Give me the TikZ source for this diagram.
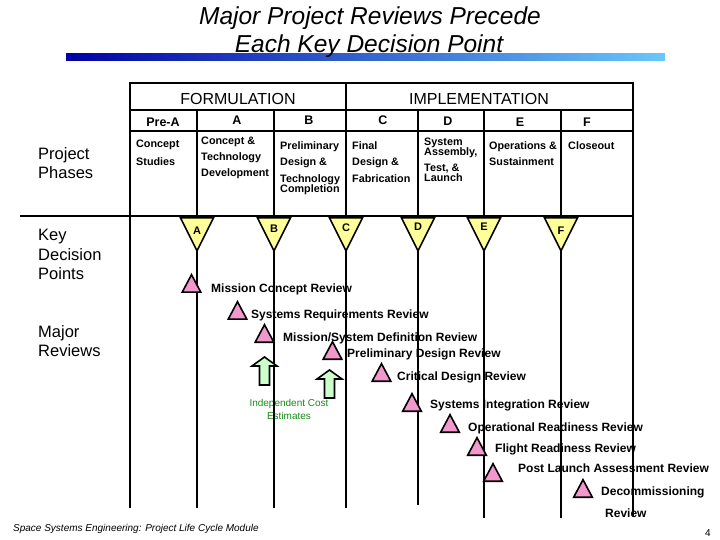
\documentclass[tikz,border=0pt]{standalone}
\usepackage{fontspec}
\setmainfont{Liberation Sans}
\usetikzlibrary{shapes.geometric}
\definecolor{kdpyellow}{RGB}{255,255,153}
\definecolor{revpink}{RGB}{242,152,204}
\definecolor{icegreen}{RGB}{204,255,204}
\definecolor{icetext}{RGB}{20,140,20}
\definecolor{bardark}{RGB}{0,0,165}
\definecolor{barmid}{RGB}{50,115,215}
\definecolor{barlight}{RGB}{105,200,250}
\tikzset{
    rule/.style={line width=2pt, line cap=rect},
    title/.style={anchor=base, inner sep=0pt, font=\fontsize{24.5}{28}\selectfont\itshape},
    phasehead/.style={anchor=base, inner sep=0pt, font=\fontsize{16}{19}\selectfont},
    phaseid/.style={anchor=base, inner sep=0pt, font=\fontsize{12.5}{15}\selectfont\bfseries},
    phasetext/.style={anchor=north west, inner sep=0pt, align=left, font=\fontsize{10.8}{16}\selectfont\bfseries},
    rowlabel/.style={anchor=north west, inner sep=0pt, align=left, font=\fontsize{16.5}{19.5}\selectfont},
    kdp/.style={isosceles triangle, isosceles triangle apex angle=53, shape border rotate=270,
        draw=black, line width=1.6pt, fill=kdpyellow, minimum size=33pt, inner sep=0pt, anchor=north},
    kdpid/.style={anchor=base, inner sep=0pt, font=\fontsize{11}{13}\selectfont\bfseries},
    review/.style={isosceles triangle, isosceles triangle apex angle=56, shape border rotate=90,
        draw=black, line width=1.6pt, fill=revpink, minimum size=17.5pt, inner sep=0pt, anchor=south},
    reviewtext/.style={anchor=base west, inner sep=0pt, font=\fontsize{12}{14}\selectfont\bfseries},
    costarrow/.pic={
        \draw[line width=1.6pt, fill=icegreen] (-5,0) -- (-5,-19) -- (-12.5,-19) -- (0,-28)
            -- (12.5,-19) -- (5,-19) -- (5,0) -- cycle;
    },
    costtext/.style={anchor=north, inner sep=0pt, align=center, text=icetext, font=\fontsize{10}{13}\selectfont},
    footer/.style={anchor=base west, inner sep=0pt, font=\fontsize{10}{12}\selectfont\itshape}
}
\begin{document}
\begin{tikzpicture}[x=1pt,y=-1pt]
\useasboundingbox (0,0) rectangle (720,540);

% title
\shade[left color=bardark, middle color=barmid, right color=barlight] (66,54) rectangle (665,61);
\node[title] (title1) at (370,24.8) {Major Project Reviews Precede};
\node[title] (title2) at (369,52.8) {Each Key Decision Point};

% row labels
\node[rowlabel] (phases) at (38,147) {Project\\Phases};
\node[rowlabel] (keypoints) at (38,229) {Key\\Decision\\Points};
\node[rowlabel] (majorrev) at (38,325) {Major\\Reviews};

% phase table text
\node[phasehead] (formulation) at (238,104.5) {FORMULATION};
\node[phasehead] (implementation) at (479,104.5) {IMPLEMENTATION};
\node[phaseid] (idPreA) at (163,127) {Pre-A};
\node[phaseid] (idA) at (237,125) {A};
\node[phaseid] (idB) at (309,125) {B};
\node[phaseid] (idC) at (383,125) {C};
\node[phaseid] (idD) at (448,126) {D};
\node[phaseid] (idE) at (520,127) {E};
\node[phaseid] (idF) at (587,127) {F};

\node[phasetext] (descPreA) at (136,140) {Concept\\[2pt]Studies};
\node[phasetext] (descA) at (201,137) {Concept \&\\Technology\\Development};
\node[phasetext] (descB) at (280,141) {Preliminary\\Design \&\\[1pt]Technology\\[-6pt]Completion};
\node[phasetext] (descC) at (352,141) {Final\\Design \&\\[1pt]Fabrication};
\node[phasetext] (descD) at (424,138) {System\\[-6pt]Assembly,\\Test, \&\\[-6pt]Launch};
\node[phasetext] (descE) at (489,141) {Operations \&\\Sustainment};
\node[phasetext] (descF) at (568,141) {Closeout};

% review names
\node[reviewtext] (mcrText) at (211,292.3) {Mission Concept Review};
\node[reviewtext] (srrText) at (251,318.3) {Systems Requirements Review};
\node[reviewtext] (mdrText) at (283,341.3) {Mission/System Definition Review};
\node[reviewtext] (pdrText) at (347,357.3) {Preliminary Design Review};
\node[reviewtext] (cdrText) at (397,380.3) {Critical Design Review};
\node[reviewtext] (sirText) at (430,408.3) {Systems Integration Review};
\node[reviewtext] (orrText) at (468,431.3) {Operational Readiness Review};
\node[reviewtext] (frrText) at (495,452.3) {Flight Readiness Review};
\node[reviewtext] (plarText) at (518,472.3) {Post Launch Assessment Review};
\node[reviewtext, anchor=north west, align=left] (drText) at (601,486.7) {Decommissioning\\[8pt]\hspace*{4pt}Review};

\node[costtext] (iceText) at (289,399.5) {Independent Cost\\Estimates};

% table and time lines
\draw[rule] (130,83) -- (633,83);
\draw[rule] (130,110) -- (633,110);
\draw[rule] (130,131) -- (633,131);
\draw[rule] (21,216) -- (633,216);
\draw[rule] (130,83) -- (130,507);
\draw[rule] (346,83) -- (346,507);
\draw[rule] (633,83) -- (633,515);
\foreach \x/\e in {197/507, 274/507, 418/504, 484/517, 561/517}
    \draw[rule] (\x,110) -- (\x,\e);

% key decision points
\foreach \x/\id/\ly in {197/A/234, 274/B/233, 346/C/231, 418/D/230, 484/E/230, 561/F/235} {
    \node[kdp] (kdp\id) at (\x,217) {};
    \node[kdpid] (kdp\id text) at (\x,\ly) {\id};
}

% review markers
\node[review] (mcr) at (191.5,293) {};
\node[review] (srr) at (237.5,320) {};
\node[review] (mdr) at (264.5,343) {};
\node[review] (pdr) at (332.5,360) {};
\node[review] (cdr) at (381.5,382) {};
\node[review] (sir) at (412,412) {};
\node[review] (orr) at (450,433) {};
\node[review] (frr) at (477,456) {};
\node[review] (plar) at (493,482) {};
\node[review] (dr) at (583,498) {};

% independent cost estimates
\pic (ice1) at (264.5,385) {costarrow};
\pic (ice2) at (329.5,398) {costarrow};

% footer
\node[footer] (module) at (13,531.5) {Space Systems Engineering: Project Life Cycle Module};
\node[anchor=base, inner sep=0pt, font=\fontsize{10}{12}\selectfont] (pagenum) at (708,536) {4};
\end{tikzpicture}
\end{document}
